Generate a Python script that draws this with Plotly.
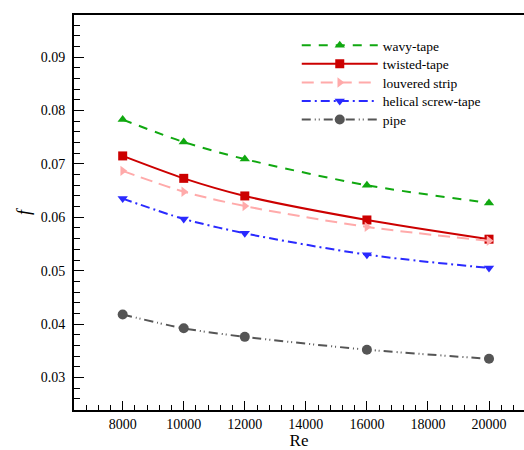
import plotly.graph_objects as go

# Reynolds numbers and friction factors for each insert type
re_values = [8000, 10000, 12000, 16000, 20000]
wavy_tape = [0.0783, 0.0741, 0.0709, 0.0660, 0.0627]
twisted_tape = [0.0715, 0.0673, 0.0640, 0.0595, 0.0559]
louvered_strip = [0.0687, 0.0648, 0.0621, 0.0582, 0.0556]
helical_screw_tape = [0.0635, 0.0597, 0.0570, 0.0530, 0.0505]
pipe = [0.0418, 0.0392, 0.0376, 0.0352, 0.0335]

series = [
    ("wavy-tape", wavy_tape, "#10a810", "9px,8px", "triangle-up"),
    ("twisted-tape", twisted_tape, "#cc0000", "solid", "square"),
    ("louvered strip", louvered_strip, "#ffaaaa", "12px,7px", "triangle-right"),
    ("helical screw-tape", helical_screw_tape, "#2a2aff", "9px,4px,2px,4px", "triangle-down"),
    ("pipe", pipe, "#555555", "9px,4px,1px,3px,1px,4px", "circle"),
]

serif = "Liberation Serif"

# plot area spans 15..412 px vertically; each legend entry gets its own legend box
plot_top, plot_bottom = 15, 412
entry_centers = [45.7, 64.3, 83.0, 101.7, 120.3]

fig = go.Figure()
layout_legends = {}
for i, (name, vals, color, dash, symbol) in enumerate(series):
    key = "legend" if i == 0 else f"legend{i + 1}"
    fig.add_trace(go.Scatter(
        x=re_values, y=vals, name=name, mode="lines+markers",
        line=dict(color=color, width=2, dash=dash, shape="spline", smoothing=0.8),
        marker=dict(symbol=symbol, size=9 if symbol != "circle" else 10, color=color),
        legend=key,
    ))
    layout_legends[key] = dict(
        x=0.495, xanchor="left",
        y=(plot_bottom - entry_centers[i]) / (plot_bottom - plot_top), yanchor="middle",
        bgcolor="rgba(0,0,0,0)", itemwidth=76,
        font=dict(family=serif, size=13.5, color="black"),
    )

fig.update_layout(
    width=524, height=450,
    margin=dict(l=74, r=0, t=15, b=38),
    plot_bgcolor="white", paper_bgcolor="white",
    font=dict(family=serif, size=13, color="black"),
    showlegend=True,
    **layout_legends,
)

fig.update_xaxes(
    range=[6405, 21146], dtick=2000, tick0=0, tickformat="d",
    showgrid=False, zeroline=False,
    showline=True, linecolor="black", linewidth=2, mirror=True,
    ticks="inside", ticklen=9, tickwidth=1, tickcolor="black",
    minor=dict(ticks="inside", ticklen=5, dtick=400, tickcolor="black", tickwidth=1, showgrid=False),
    title=dict(text="Re", font=dict(family=serif, size=17), standoff=6),
    tickfont=dict(family=serif, size=14),
)
fig.update_yaxes(
    range=[0.0239, 0.0979], dtick=0.01, tick0=0, tickformat=".2f",
    showgrid=False, zeroline=False,
    showline=True, linecolor="black", linewidth=2, mirror=False,
    ticks="inside", ticklen=10, tickwidth=1, tickcolor="black",
    minor=dict(ticks="inside", ticklen=6, dtick=0.002, tickcolor="black", tickwidth=1, showgrid=False),
    ticklabelstandoff=4,
    title=dict(text="<i>f</i>", font=dict(family=serif, size=18), standoff=5),
    tickfont=dict(family=serif, size=14),
)

fig.write_html("out.html")
